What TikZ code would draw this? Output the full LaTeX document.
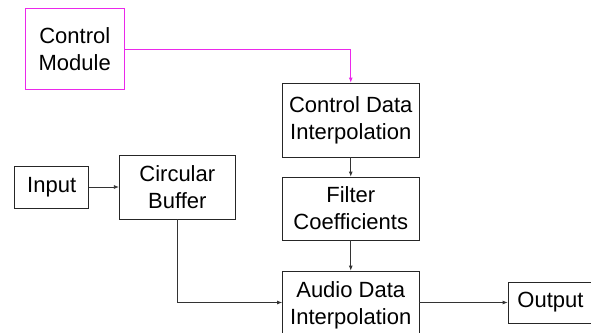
\documentclass[tikz,border=0pt]{standalone}
\usepackage{fontspec}
\setmainfont{Liberation Sans}
\usetikzlibrary{arrows.meta}
\definecolor{cmag}{RGB}{235,40,235}
\begin{document}
\begin{tikzpicture}[x=1pt,y=-1pt,
  box/.style={draw=black!85, line width=0.8pt, inner sep=0pt, align=center,
              font=\fontsize{22}{27}\selectfont},
  link/.style={line width=0.8pt, draw=black!80, -{Latex[length=5pt,width=4pt]}}]
\useasboundingbox (0,0) rectangle (591,332);
% blocks
\node[box, draw=cmag, minimum width=98.5pt, minimum height=81pt] (cm) at (74.75,49) {Control\\Module};
\node[box, minimum width=136.5pt, minimum height=74pt] (cdi) at (350.75,120) {Control Data\\Interpolation};
\node[box, minimum width=136.5pt, minimum height=63pt] (fc) at (350.75,208.5) {Filter\\Coefficients};
\node[box, minimum width=136.5pt, minimum height=69pt] (adi) at (350.75,305.5) {Audio Data\\Interpolation};
\node[box, minimum width=85pt, minimum height=41pt] (out) at (550.5,302.5) {Output};
\node[box, minimum width=74pt, minimum height=42pt] (in) at (51.7,187) {Input};
\node[box, minimum width=116pt, minimum height=64pt] (cb) at (177.3,187) {Circular\\Buffer};
% connectors
\draw[link, draw=cmag, -{Latex[length=5pt,width=4pt,fill=cmag]}] (cm.east) -| (cdi.north);
\draw[link] (cdi) -- (fc);
\draw[link] (fc) -- (adi);
\draw[link] (in) -- (cb);
\draw[link] (cb.south) |- (adi.west |- out.west);
\draw[link] (adi.east |- out.west) -- (out.west);
\end{tikzpicture}
\end{document}
